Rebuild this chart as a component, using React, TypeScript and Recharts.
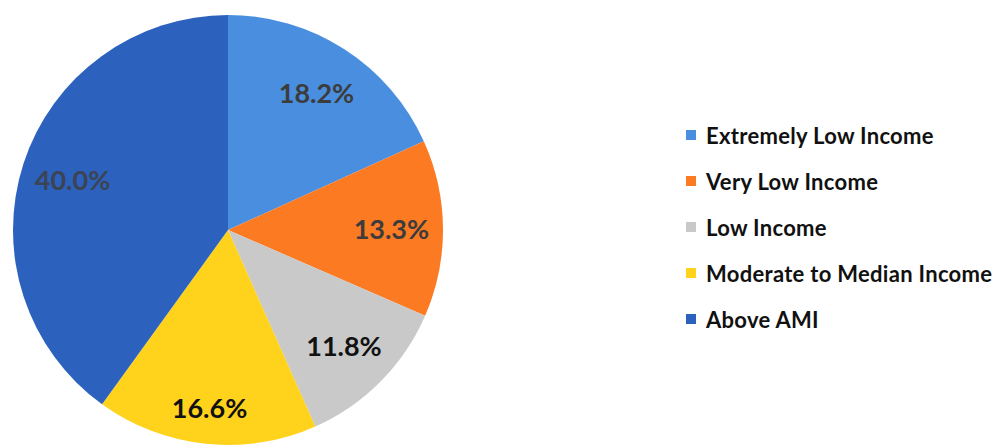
import { PieChart, Pie, Cell, Legend } from 'recharts';

const categories = [
  'Extremely Low Income',
  'Very Low Income',
  'Low Income',
  'Moderate to Median Income',
  'Above AMI',
];
const shares = [18.2, 13.3, 11.8, 16.6, 40.0];
const colors = ['#4a8fdf', '#fb7a22', '#c9c9c9', '#ffd21c', '#2c61bd'];
const labelColors = ['#3c3c3c', '#3c3c3c', '#111111', '#111111', '#3c4454'];
const labelRadius = [0.76, 0.76, 0.76, 0.83, 0.76];

const data = categories.map((name, i) => ({ name, value: shares[i] }));

const FONT = 'Lato, "Open Sans", sans-serif';
const RADIAN = Math.PI / 180;

function renderLabel(props: Record<string, number>) {
  const { cx, cy, midAngle, outerRadius, index } = props;
  const r = outerRadius * labelRadius[index];
  const x = cx + r * Math.cos(-midAngle * RADIAN);
  const y = cy + r * Math.sin(-midAngle * RADIAN);
  return (
    <text
      x={x}
      y={y}
      textAnchor="middle"
      dominantBaseline="central"
      fill={labelColors[index]}
      style={{ fontFamily: FONT, fontSize: 27, fontWeight: 700 }}
    >
      {`${shares[index].toFixed(1)}%`}
    </text>
  );
}

function LegendList() {
  return (
    <div style={{ fontFamily: FONT }}>
      {categories.map((c, i) => (
        <div key={c} style={{ display: 'flex', alignItems: 'center', height: 46 }}>
          <span style={{ width: 10, height: 10, background: colors[i], marginRight: 10 }} />
          <span style={{ fontSize: 22, fontWeight: 700, color: '#111', letterSpacing: 0.3 }}>{c}</span>
        </div>
      ))}
    </div>
  );
}

export default function App() {
  return (
    <div style={{ position: 'absolute', left: 0, top: 0, width: 1003, height: 445, background: '#fff' }}>
      <PieChart width={1003} height={445} margin={{ top: 0, right: 0, bottom: 0, left: 0 }}>
        <Pie
          data={data}
          dataKey="value"
          nameKey="name"
          cx={228}
          cy={230}
          outerRadius={215}
          startAngle={90}
          endAngle={-270}
          stroke="none"
          labelLine={false}
          label={renderLabel}
          isAnimationActive={false}
        >
          {data.map((d, i) => (
            <Cell key={d.name} fill={colors[i]} />
          ))}
        </Pie>
        <Legend
          layout="vertical"
          content={() => <LegendList />}
          wrapperStyle={{ left: 686, top: 112, width: 317 }}
        />
      </PieChart>
    </div>
  );
}
